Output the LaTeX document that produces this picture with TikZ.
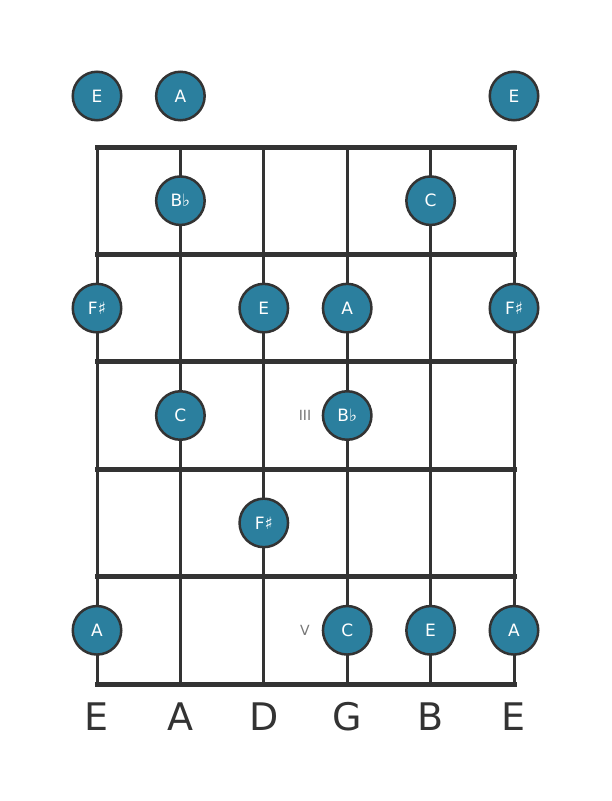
\documentclass[tikz,border=0pt]{standalone}
\usepackage{fontspec}
\setmainfont{DejaVu Sans}
\definecolor{noteblue}{HTML}{2B7F9E}
\definecolor{linegray}{HTML}{333333}
\definecolor{numgray}{HTML}{777777}
\begin{document}
\begin{tikzpicture}[x=1pt,y=-1pt,
  note/.style={circle,fill=noteblue,draw=linegray,line width=2.5pt,minimum size=48.5pt,inner sep=0pt,text=white,font=\fontsize{17}{17}\selectfont},
  strline/.style={draw=linegray,line width=3pt},
  fretline/.style={draw=linegray,line width=5pt},
  strname/.style={text=linegray,font=\fontsize{38}{38}\selectfont},
  posmark/.style={text=numgray,font=\fontsize{14}{14}\selectfont}]
\useasboundingbox (0,0) rectangle (611,801);
\fill[white] (0,0) rectangle (611,801);
% coordinates
\foreach \i/\x in {1/97,2/180.4,3/263.8,4/347.2,5/430.6,6/514}{
  \coordinate (t\i) at (\x,147);
  \coordinate (b\i) at (\x,684);
}
\foreach \j/\y in {0/147,1/254.4,2/361.8,3/469.2,4/576.6,5/684}{
  \coordinate (l\j) at (97,\y);
  \coordinate (r\j) at (514,\y);
}
\foreach \i in {1,...,6}{ \draw[strline] (t\i) -- (b\i); }
\foreach \j in {0,...,5}{ \draw[fretline,line cap=rect] (l\j) -- (r\j); }
% open strings
\node[note] (o1) at (97,96) {E};
\node[note] (o2) at (180.4,96) {A};
\node[note] (o6) at (514,96) {E};
% fret 1
\node[note] (n12) at (180.4,200.7) {B♭};
\node[note] (n15) at (430.6,200.7) {C};
% fret 2
\node[note] (n21) at (97,308.1) {F♯};
\node[note] (n23) at (263.8,308.1) {E};
\node[note] (n24) at (347.2,308.1) {A};
\node[note] (n26) at (514,308.1) {F♯};
% fret 3
\node[note] (n32) at (180.4,415.5) {C};
\node[note] (n34) at (347.2,415.5) {B♭};
% fret 4
\node[note] (n43) at (263.8,522.9) {F♯};
% fret 5
\node[note] (n51) at (97,630.3) {A};
\node[note] (n54) at (347.2,630.3) {C};
\node[note] (n55) at (430.6,630.3) {E};
\node[note] (n56) at (514,630.3) {A};
% position markers
\node[posmark] (p3) at (305,415.5) {III};
\node[posmark] (p5) at (305,630.3) {V};
% string names
\node[strname] (s1) at (97,717) {E};
\node[strname] (s2) at (180.4,717) {A};
\node[strname] (s3) at (263.8,717) {D};
\node[strname] (s4) at (347.2,717) {G};
\node[strname] (s5) at (430.6,717) {B};
\node[strname] (s6) at (514,717) {E};
\end{tikzpicture}
\end{document}
